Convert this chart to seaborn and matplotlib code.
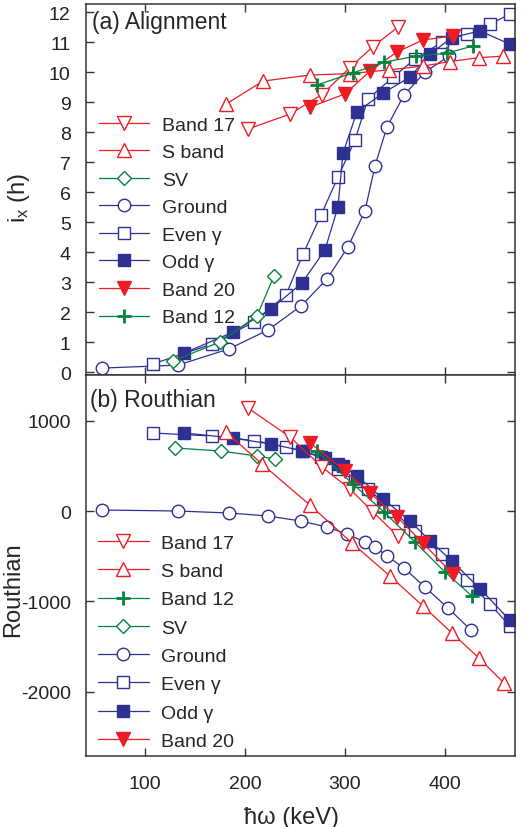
import matplotlib
matplotlib.use("Agg")
import matplotlib.pyplot as plt
import seaborn as sns

# ---- (a) alignment i_x vs hbar*omega (keV)
b17_w = [203, 245, 277, 305, 328, 353]
b17_ix = [8.1, 8.6, 9.25, 10.15, 10.85, 11.5]
sb_w = [181, 218, 265, 305, 344, 378, 405, 434, 458]
sb_ix = [8.93, 9.7, 9.9, 9.95, 10.07, 10.2, 10.35, 10.48, 10.53]
sv_w = [128, 175, 212, 229]
sv_ix = [0.37, 1.0, 1.87, 3.2]
gnd_w = [57, 133, 184, 223, 256, 282, 303, 320, 330, 342, 359, 380, 404]
gnd_ix = [0.13, 0.23, 0.77, 1.4, 2.2, 3.1, 4.17, 5.37, 6.87, 8.17, 9.23, 10.0, 10.53]
even_w = [108, 167, 209, 241, 258, 276, 293, 310, 323, 348, 370, 397, 422, 445, 465]
even_ix = [0.27, 0.93, 1.67, 2.57, 3.93, 5.23, 6.5, 7.73, 9.1, 9.83, 10.43, 11.0, 11.27, 11.6, 11.93]
odd_w = [139, 188, 226, 257, 280, 293, 298, 312, 338, 365, 385, 407, 435, 465]
odd_ix = [0.63, 1.33, 2.1, 2.97, 4.07, 5.5, 7.3, 8.67, 9.3, 9.83, 10.6, 11.15, 11.37, 10.93]
b20_w = [265, 300, 325, 352, 378, 408]
b20_ix = [8.83, 9.27, 10.03, 10.67, 11.07, 11.2]
b12_w = [272, 308, 339, 371, 402, 428]
b12_ix = [9.57, 9.97, 10.33, 10.53, 10.63, 10.87]

# ---- (b) Routhian
b17_r = [1140, 820, 487, 244, -11, -277]
sb_w2 = [181, 217, 265, 307, 345, 378, 407, 434, 459]
sb_r = [875, 520, 66, -354, -720, -1052, -1351, -1628, -1905]
b12_w2 = [272, 308, 339, 370, 400, 427]
b12_r = [664, 299, -11, -343, -676, -941]
sv_w2 = [130, 176, 212, 230]
sv_r = [698, 664, 609, 576]
gnd_w2 = [57, 133, 184, 223, 256, 282, 302, 320, 330, 342, 359, 380, 403, 426]
gnd_r = [11, 0, -22, -55, -111, -177, -255, -343, -399, -498, -631, -842, -1074, -1318]
even_r = [864, 830, 780, 712, 660, 595, 465, 330, 245, 0, -220, -480, -765, -1030, -1275]
odd_r = [865, 808, 742, 668, 588, 520, 495, 390, 135, -110, -330, -555, -860, -1210]
b20_r = [755, 445, 200, -65, -355, -700]

red = "#ED1C24"
blue = "#2E3192"
green = "#00843D"

# marker styles per band
styles = {
    "Band 17": dict(color=red, marker="v", markersize=9.5, markerfacecolor="white", markeredgecolor=red),
    "S band": dict(color=red, marker="^", markersize=9.5, markerfacecolor="white", markeredgecolor=red),
    "SV": dict(color=green, marker="D", markersize=7.5, markerfacecolor="white", markeredgecolor=green),
    "Ground": dict(color=blue, marker="o", markersize=9, markerfacecolor="white", markeredgecolor=blue),
    "Even \u03b3": dict(color=blue, marker="s", markersize=8.5, markerfacecolor="white", markeredgecolor=blue),
    "Odd \u03b3": dict(color=blue, marker="s", markersize=8.5, markerfacecolor=blue, markeredgecolor=blue),
    "Band 20": dict(color=red, marker="v", markersize=9.5, markerfacecolor=red, markeredgecolor=red),
    "Band 12": dict(color=green, marker="+", markersize=10, markerfacecolor=green, markeredgecolor=green),
}
for s in styles.values():
    s["markeredgewidth"] = 1.0
    s["linewidth"] = 0.9
styles["Band 12"]["markeredgewidth"] = 2.0

sns.set_theme(style="ticks")
plt.rcParams["font.family"] = ["Liberation Sans", "DejaVu Sans"]
plt.rcParams["axes.edgecolor"] = "#333333"
plt.rcParams["axes.unicode_minus"] = False
plt.rcParams["mathtext.fontset"] = "custom"
plt.rcParams["mathtext.rm"] = "Liberation Sans"
plt.rcParams["mathtext.it"] = "Liberation Sans"

fig, (ax1, ax2) = plt.subplots(2, 1, figsize=(5.26, 8.28), dpi=100, sharex=True,
                               gridspec_kw=dict(height_ratios=[371, 381]))
fig.subplots_adjust(left=0.1635, right=0.979, top=0.994, bottom=0.0857, hspace=0)


def draw(ax, name, x, y):
    sns.lineplot(x=x, y=y, ax=ax, sort=False, estimator=None, label=name, **styles[name])


top_series = [("Ground", gnd_w, gnd_ix), ("Even \u03b3", even_w, even_ix), ("Odd \u03b3", odd_w, odd_ix),
              ("SV", sv_w, sv_ix), ("S band", sb_w, sb_ix), ("Band 17", b17_w, b17_ix),
              ("Band 20", b20_w, b20_ix), ("Band 12", b12_w, b12_ix)]
for name, x, y in top_series:
    draw(ax1, name, x, y)

bot_series = [("Ground", gnd_w2, gnd_r), ("Even \u03b3", even_w, even_r), ("Odd \u03b3", odd_w, odd_r),
              ("SV", sv_w2, sv_r), ("S band", sb_w2, sb_r), ("Band 17", b17_w, b17_r),
              ("Band 12", b12_w2, b12_r), ("Band 20", b20_w, b20_r)]
for name, x, y in bot_series:
    draw(ax2, name, x, y)

top_order = ["Band 17", "S band", "SV", "Ground", "Even \u03b3", "Odd \u03b3", "Band 20", "Band 12"]
bot_order = ["Band 17", "S band", "Band 12", "SV", "Ground", "Even \u03b3", "Odd \u03b3", "Band 20"]


def legend(ax, order, anchor, spacing):
    h, l = ax.get_legend_handles_labels()
    lookup = dict(zip(l, h))
    ax.legend([lookup[k] for k in order], order, loc="upper left", bbox_to_anchor=anchor,
              frameon=False, fontsize=14, handlelength=2.6, handletextpad=0.65,
              labelspacing=spacing, borderpad=0, borderaxespad=0)


legend(ax1, top_order, (0.03, 0.698), 0.51)
legend(ax2, bot_order, (0.028, 0.5825), 0.55)

ax1.set_xlim(41, 470)
ax1.set_ylim(-0.1, 12.27)
ax1.set_yticks(range(0, 13))
ax2.set_ylim(-2713, 1506)
ax2.set_yticks([1000, 0, -1000, -2000])
ax2.set_xticks([100, 200, 300, 400])

for ax in (ax1, ax2):
    ax.tick_params(direction="in", top=True, right=True, length=6, width=1.0,
                   labelsize=14, colors="#333333", labelcolor="#222222")
    ax.tick_params(axis="y", pad=11)
    for sp in ax.spines.values():
        sp.set_linewidth(1.1)
ax2.tick_params(axis="x", pad=14)

# label x coord is the right edge of the rotated text
ax1.set_ylabel("i$_{\\mathrm{x}}$ (h)", fontsize=17)
ax1.yaxis.set_label_coords(-0.125, 0.48)
ax2.set_ylabel("Routhian", fontsize=17)
ax2.yaxis.set_label_coords(-0.145, 0.44)
ax2.set_xlabel("\u0127\u03c9 (keV)", fontsize=17)
ax2.xaxis.set_label_coords(0.478, -0.13)

ax1.text(0.014, 0.954, "(a) Alignment", transform=ax1.transAxes, fontsize=16.5, va="center")
ax2.text(0.01, 0.937, "(b) Routhian", transform=ax2.transAxes, fontsize=16.5, va="center")

fig.savefig("out.png", dpi=100)
